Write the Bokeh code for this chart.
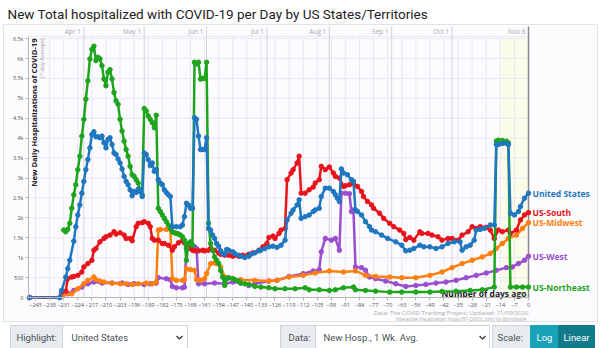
from math import pi
from bokeh.plotting import figure
from bokeh.models import Range1d, Label, FixedTicker, LinearAxis
from bokeh.embed import file_html
from bokeh.resources import INLINE
from bokeh.core.properties import value

# ---------------- data (days before Nov 8, 2020 ; 7-day avg new hospitalizations) ----------------
us_days = [-248, -233, -232, -230, -229, -228, -226, -225, -224, -223, -222, -221, -220, -219, -218, -217,
           -216, -215, -214, -213, -212, -211, -210, -209, -208, -207, -206, -205, -204, -203, -202, -201,
           -200, -199, -198, -197, -196, -195, -194, -193, -192, -191, -190, -189, -188, -187, -186, -185,
           -184, -183, -182, -181, -180, -179, -178, -177, -175, -173, -172, -171, -170, -169, -168, -167,
           -166, -165, -164, -163, -162, -161, -160, -159, -158, -157, -156, -155, -154, -153, -152, -151,
           -150, -149, -147, -146, -144, -143, -141, -139, -138, -136, -134, -133, -131, -129, -127, -125,
           -123, -121, -120, -118, -117, -115, -114, -113, -111, -109, -107, -106, -104, -103, -101, -99,
           -97, -96, -95, -94, -93, -92, -90, -88, -87, -86, -85, -83, -81, -79, -78, -76, -73, -70, -66,
           -63, -61, -59, -57, -54, -52, -49, -46, -43, -40, -37, -34, -33, -31, -29, -27, -26, -24, -22,
           -19, -17, -16, -15, -13, -11, -10, -9, -7, -5, -4, -2, 0]
us_vals = [0, 0, 180, 514, 724, 935, 1415, 1778, 2072, 2325, 2620, 2915, 3210, 3462, 3757, 4094,
           4162, 4035, 4035, 4010, 4052, 3884, 3757, 3968, 4010, 3842, 3631, 3589, 3479, 3378, 3227, 3041,
           2915, 2831, 2704, 2553, 2662, 2637, 2721, 2662, 2536, 3631, 3589, 3462, 3311, 3378, 3168, 3210,
           2957, 2873, 2831, 2704, 2637, 2578, 2536, 1778, 1778, 1778, 1820, 2030, 2367, 2325, 2241, 2241,
           4516, 4473, 4052, 3715, 3715, 3715, 4010, 1735, 1693, 1567, 1483, 1356, 1289, 1171, 1104, 1087,
           1205, 1188, 1146, 1104, 1062, 1036, 1003, 1036, 1087, 1120, 1171, 1188, 1230, 1272, 1289, 1260,
           1314, 1440, 1946, 2115, 2199, 2325, 2452, 1988, 2030, 2072, 2157, 2199, 2241, 2536, 2746, 2746,
           2662, 2578, 2494, 2409, 3227, 3125, 3083, 2957, 2915, 2199, 2157, 2072, 1904, 1778, 1693, 1651,
           1567, 1483, 1398, 1314, 1171, 1188, 1230, 1314, 1272, 1272, 1230, 1272, 1356, 1398, 1398, 1188,
           1272, 1314, 1440, 1693, 1710, 1735, 1820, 1820, 3842, 3842, 3867, 3867, 3842, 2115, 2072, 2157,
           2283, 2494, 2620]

south_days = [-248, -233, -232, -230, -229, -227, -226, -224, -222, -221, -219, -217, -216, -215, -213,
              -211, -210, -208, -206, -205, -203, -201, -200, -198, -197, -195, -194, -192, -191, -189,
              -188, -187, -186, -184, -182, -181, -179, -177, -176, -174, -172, -171, -169, -167, -166,
              -164, -162, -161, -159, -158, -156, -154, -153, -151, -149, -147, -144, -142, -139, -137,
              -134, -132, -130, -129, -127, -126, -124, -123, -121, -120, -118, -117, -115, -114, -113,
              -111, -109, -107, -106, -104, -103, -101, -99, -97, -96, -94, -92, -91, -89, -87, -85, -83,
              -82, -80, -78, -77, -74, -72, -69, -67, -64, -62, -61, -59, -57, -54, -53, -50, -48, -45,
              -43, -40, -38, -35, -33, -30, -28, -26, -24, -21, -19, -17, -15, -13, -10, -9, -6, -4, -2, 0]
south_vals = [0, 0, 135, 160, 472, 514, 530, 556, 640, 767, 851, 935, 1188, 1230, 1398,
              1483, 1525, 1567, 1651, 1592, 1626, 1567, 1483, 1483, 1424, 1778, 1862, 1879, 1904, 1862,
              1778, 1483, 1440, 1440, 1356, 1356, 1314, 1188, 1272, 1373, 1424, 1373, 1272, 1188, 1171,
              1171, 1188, 1171, 1188, 1230, 1188, 1120, 1087, 1062, 1062, 1036, 1036, 1062, 1087, 1120,
              1188, 1272, 1356, 1508, 1542, 1483, 1609, 1693, 1735, 2957, 3125, 3210, 3378, 3547, 2620,
              2620, 2704, 2772, 2873, 2957, 3294, 3210, 3277, 3125, 3041, 2999, 2789, 2806, 2831, 2856,
              2789, 2662, 2536, 2409, 2325, 2241, 2115, 1988, 1862, 1778, 1693, 1609, 1457, 1508, 1440,
              1651, 1609, 1609, 1567, 1525, 1440, 1483, 1483, 1440, 1567, 1651, 1778, 1735, 1778, 1761,
              1693, 1483, 1693, 1651, 1693, 1609, 1693, 1946, 2072, 2131]

ne_days = [-231, -230, -229, -228, -227, -226, -225, -224, -223, -222, -221, -220, -219, -218, -217, -216,
           -215, -214, -213, -212, -211, -210, -209, -208, -207, -206, -205, -204, -203, -202, -201, -200,
           -199, -198, -197, -196, -195, -194, -193, -192, -191, -190, -189, -188, -187, -186, -185, -184,
           -183, -182, -181, -180, -179, -178, -177, -176, -175, -174, -173, -172, -171, -170, -169, -168,
           -167, -166, -165, -164, -163, -162, -161, -160, -159, -158, -157, -156, -155, -154, -153, -152,
           -151, -150, -149, -147, -146, -144, -143, -141, -139, -136, -133, -129, -126, -121, -116, -111,
           -109, -104, -99, -96, -92, -87, -86, -81, -76, -69, -63, -56, -49, -43, -36, -29, -23, -17, -16,
           -15, -13, -11, -10, -9, -6, -3, 0]
ne_vals = [1693, 1651, 1710, 1862, 2241, 2578, 2831, 3210, 3547, 4052, 4473, 4979, 5442, 5990, 6226, 6310,
           5948, 6032, 5990, 5821, 5484, 5316, 5653, 5720, 5484, 5147, 4937, 4853, 4473, 4179, 3926, 3715,
           3547, 3294, 3083, 3041, 2957, 2873, 2704, 2578, 4743, 4684, 4558, 4473, 4389, 4263, 4575, 2241,
           2157, 2072, 1988, 1904, 1820, 1735, 1651, 1626, 1609, 1592, 1567, 1525, 1440, 935, 1356, 1398,
           1314, 5906, 5863, 5906, 5484, 5501, 5501, 5906, 1862, 1356, 1188, 1019, 935, 851, 682, 514,
           303, 472, 497, 472, 447, 413, 362, 345, 329, 278, 261, 244, 219, 219, 219, 244,
           194, 194, 177, 194, 244, 261, 194, 177, 160, 135, 135, 135, 135, 152, 160, 177, 194, 261, 3926,
           3951, 3943, 3926, 3884, 261, 261, 261, 261]

mw_days = [-248, -233, -232, -227, -224, -221, -219, -216, -215, -213, -211, -207, -203, -200, -197, -194,
           -190, -187, -185, -184, -183, -180, -178, -177, -175, -172, -171, -170, -168, -166, -165, -163,
           -161, -160, -158, -156, -155, -153, -151, -150, -147, -143, -136, -129, -125, -119, -112, -106,
           -99, -92, -86, -81, -76, -69, -63, -56, -49, -43, -38, -33, -28, -23, -19, -16, -13, -10, -6,
           -3, 0]
mw_vals = [0, 0, 50, 93, 219, 345, 430, 514, 447, 413, 388, 362, 345, 345, 329, 345,
           362, 345, 388, 1693, 1710, 1710, 1710, 472, 430, 430, 447, 724, 699, 682, 447, 430,
           472, 598, 851, 868, 851, 767, 514, 497, 472, 447, 430, 413, 430, 514, 556, 615,
           666, 640, 666, 556, 530, 514, 497, 497, 556, 640, 750, 851, 935, 1019, 1104, 1230, 1356, 1483, 1567,
           1735, 1879]

west_days = [-248, -233, -229, -226, -222, -219, -216, -212, -207, -202, -199, -196, -191, -188, -185, -184,
             -180, -178, -177, -175, -172, -171, -170, -169, -166, -165, -164, -161, -156, -151, -147, -143,
             -139, -136, -129, -125, -119, -112, -107, -104, -103, -101, -98, -96, -94, -93, -91, -89, -88,
             -87, -86, -83, -81, -79, -76, -71, -66, -61, -56, -51, -46, -41, -36, -31, -26, -21, -16, -11,
             -8, -5, -2, 0]
west_vals = [0, 0, 93, 177, 261, 345, 388, 362, 362, 362, 329, 345, 329, 345, 362, 497,
             472, 447, 278, 244, 244, 261, 1230, 1230, 1272, 1230, 345, 345, 362, 345, 388, 362,
             300, 345, 413, 430, 530, 598, 666, 699, 1146, 1483, 1440, 1483, 1188, 2620, 2620, 2603, 2157,
             2199, 767, 750, 682, 514, 472, 413, 345, 278, 303, 329, 362, 388, 430, 497, 556, 615, 682, 750,
             767, 851, 935, 1036]

series_names = ["US-West", "US-Midwest", "US-South", "US-Northeast", "United States"]
series_colors = ["#9a4fd0", "#ff7f0e", "#e8141b", "#1ea51e", "#1f77c0"]
series_days = [west_days, mw_days, south_days, ne_days, us_days]
series_vals = [west_vals, mw_vals, south_vals, ne_vals, us_vals]

x_ticks = list(range(-245, 1, 7))
y_ticks = list(range(0, 6501, 500))
y_tick_labels = {t: ("0" if t == 0 else "500" if t == 500 else (f"{t/1000:g}k")) for t in y_ticks}
month_days = [-221, -191, -160, -130, -99, -68, -38]
month_labels = ["Apr 1", "May 1", "Jun 1", "Jul 1", "Aug 1", "Sep 1", "Oct 1"]
end_label = "Nov 8"
recent_days = 13.5

# ---------------- page geometry (pixels) ----------------
W, H = 600, 348
X0PX, KX = 528.0, 2.012        # day 0 at x=528, px per day
Y0PX, KY = 297.0, 0.03983      # value 0 at y=297, px per unit


def px2x(px):
    return (px - X0PX) / KX


def px2y(py):
    return (Y0PX - py) / KY


XMIN, XMAX = px2x(28), px2x(529)
YTOP = px2y(36)

p = figure(width=W, height=H, x_range=Range1d(px2x(0), px2x(W)), y_range=Range1d(px2y(H), px2y(0)),
           output_backend="svg", toolbar_location=None, x_axis_type=None, y_axis_type=None,
           min_border=0, background_fill_color="white", border_fill_color="white", outline_line_color=None)

# card background + border
p.quad(left=[px2x(3)], right=[px2x(597)], top=[px2y(24)], bottom=[px2y(321)],
       fill_color="#fcfbfe", line_color="#e3e3e6", line_width=1)
# recent-days band
p.quad(left=[-recent_days], right=[0], top=[YTOP], bottom=[0], fill_color="#fbfbea", line_color=None)

# grid
p.segment(x0=x_ticks, y0=[0] * len(x_ticks), x1=x_ticks, y1=[YTOP] * len(x_ticks),
          line_color="#ebe7f3", line_width=1)
p.segment(x0=[XMIN] * len(y_ticks), y0=y_ticks, x1=[XMAX] * len(y_ticks), y1=y_ticks,
          line_color="#ebe7f3", line_width=1)
p.segment(x0=[XMIN], y0=[YTOP], x1=[XMAX], y1=[YTOP], line_color="#ebe7f3", line_width=1)
# month lines
p.segment(x0=month_days, y0=[0] * len(month_days), x1=month_days, y1=[px2y(26)] * len(month_days),
          line_color="#d3d3da", line_width=1)
p.segment(x0=[0], y0=[0], x1=[0], y1=[px2y(26)], line_color="#8a8a90", line_width=1.5)

for d, t in zip(month_days + [0], month_labels + [end_label]):
    p.add_layout(Label(x=d, y=px2y(31), x_offset=-3, text=t, text_align="right", text_baseline="middle",
                       text_font="Open Sans", text_font_size="6.5px", text_color="#aaaaaa"))

# axes drawn at fixed locations
xaxis = LinearAxis(fixed_location=0, ticker=FixedTicker(ticks=x_ticks), bounds=(XMIN, XMAX))
yaxis = LinearAxis(fixed_location=XMIN, ticker=FixedTicker(ticks=y_ticks), bounds=(0, YTOP))
yaxis.major_label_overrides = y_tick_labels
for ax in (xaxis, yaxis):
    ax.major_label_text_font_size = "5.5px"
    ax.major_label_text_color = "#555555"
    ax.major_label_text_font = "Open Sans"
    ax.axis_line_color = "#b5b5b8"
    ax.major_tick_line_color = "#b5b5b8"
    ax.major_tick_out = 3
    ax.major_tick_in = 0
    ax.minor_tick_line_color = None
    ax.major_label_standoff = 2
p.add_layout(xaxis, "below")
p.add_layout(yaxis, "left")

# text under the lines
p.text(x=[0], y=[px2y(293)], text=["Number of days ago"], x_offset=-2,
       text_align="right", text_baseline="middle", text_font=value("Open Sans"),
       text_font_size="8.5px", text_font_style="bold", text_color="#222222")

for name, col, dd, vv in zip(series_names, series_colors, series_days, series_vals):
    p.line(dd, vv, line_color=col, line_width=2.5)
    p.scatter(dd, vv, size=4.5, fill_color=col, line_color=col)
    p.add_layout(Label(x=dd[-1], y=vv[-1], x_offset=4, text=name, text_color=col,
                       text_font="Open Sans", text_font_size="8.5px", text_font_style="bold",
                       text_baseline="middle"))

p.add_layout(Label(x=px2x(33), y=px2y(38), text="New Daily Hospitalizations of COVID-19", angle=pi / 2,
                   text_align="right", text_baseline="middle", text_font="Open Sans",
                   text_font_size="7.6px", text_font_style="bold", text_color="#222222"))
p.add_layout(Label(x=px2x(41), y=px2y(38), text="(7-day Average)", angle=pi / 2,
                   text_align="right", text_baseline="middle", text_font="Open Sans",
                   text_font_size="5.5px", text_color="#999999"))

p.add_layout(Label(x=px2x(7), y=px2y(13), text="New Total hospitalized with COVID-19 per Day by US States/Territories",
                   text_align="left", text_baseline="middle", text_font="Roboto",
                   text_font_size="13.5px", text_color="#222222"))
p.add_layout(Label(x=px2x(528), y=px2y(312), text="Data: The COVID Tracking Project; Updated: 11/09/2020",
                   text_align="right", text_baseline="middle", text_font="Open Sans",
                   text_font_size="6px", text_color="#aaaaaa"))
p.add_layout(Label(x=px2x(528), y=px2y(318.5), text="Interactive Visualization: https://91-DIVOC.com/ by @profwade_",
                   text_align="right", text_baseline="middle", text_font="Open Sans",
                   text_font_size="4.5px", text_color="#aaaaaa"))

# ---------------- controls row ----------------
boxes_l = [10, 62, 280, 315, 492, 530, 558]
boxes_r = [62, 187, 315, 489, 530, 558, 594]
boxes_f = ["#e9ecef", "#ffffff", "#e9ecef", "#ffffff", "#e9ecef", "#17a2b8", "#117a8b"]
boxes_lc = ["#ced4da", "#ced4da", "#ced4da", "#ced4da", "#ced4da", "#17a2b8", "#117a8b"]
p.quad(left=[px2x(v) for v in boxes_l], right=[px2x(v) for v in boxes_r],
       top=[px2y(325)] * 7, bottom=[px2y(352)] * 7, fill_color=boxes_f, line_color=boxes_lc)
txt_x = [16, 71, 288, 323, 497, 544, 576]
txt = ["Highlight:", "United States", "Data:", "New Hosp., 1 Wk. Avg.", "Scale:", "Log", "Linear"]
txt_c = ["#495057", "#495057", "#495057", "#495057", "#495057", "#ffffff", "#ffffff"]
txt_a = ["left", "left", "left", "left", "left", "center", "center"]
p.text(x=[px2x(v) for v in txt_x], y=[px2y(337)] * 7, text=txt, text_color=txt_c, text_align=txt_a,
       text_baseline="middle", text_font=value("Roboto"), text_font_size="9.5px")
for cx in (179, 482):
    p.line([px2x(cx - 3), px2x(cx), px2x(cx + 3)], [px2y(335.5), px2y(338.5), px2y(335.5)],
           line_color="#343a40", line_width=1.3)

open("out.html", "w").write(file_html(p, INLINE))
